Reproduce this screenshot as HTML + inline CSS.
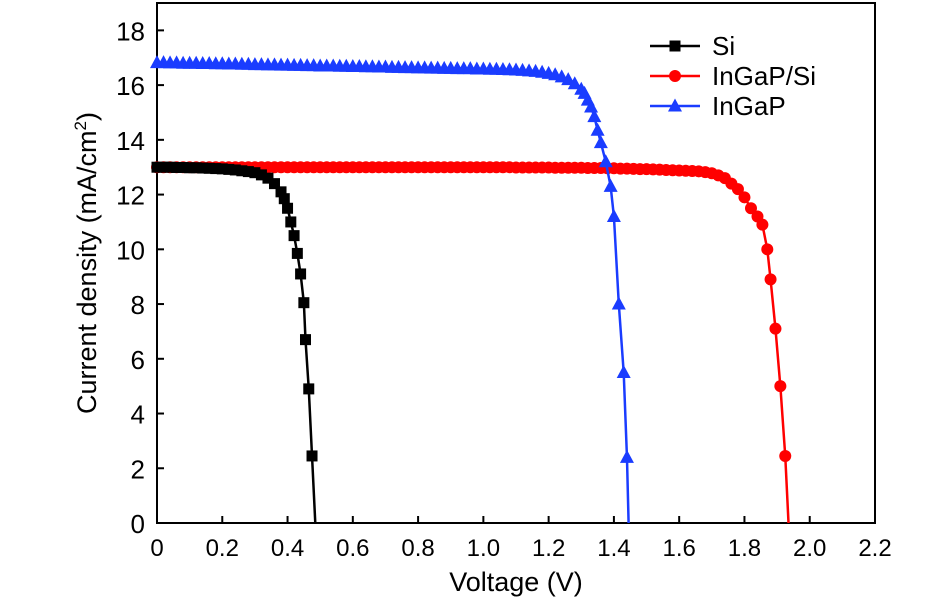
<!DOCTYPE html>
<html><head><meta charset="utf-8"><style>
body{margin:0;background:#fff;}
text{font-family:"Liberation Sans",sans-serif;fill:#000;}
</style></head><body>
<svg id="chart" width="945" height="606" viewBox="0 0 945 606" xmlns="http://www.w3.org/2000/svg">
<g id="plot"></g>
</svg>
<script>
const xTicks=[0,0.2,0.4,0.6,0.8,1.0,1.2,1.4,1.6,1.8,2.0,2.2];
const xTickLabels=["0","0.2","0.4","0.6","0.8","1.0","1.2","1.4","1.6","1.8","2.0","2.2"];
const yTicks=[0,2,4,6,8,10,12,14,16,18];
const siV=[0,0.02,0.04,0.06,0.08,0.1,0.12,0.14,0.16,0.18,0.2,0.22,0.24,0.26,0.28,0.3,0.32,0.34,0.36,0.38,0.39,0.4,0.41,0.42,0.43,0.44,0.45,0.455,0.465,0.475,0.485];
const siJ=[13.0,13.0,13.0,12.99,12.99,12.98,12.98,12.97,12.96,12.95,12.94,12.92,12.9,12.87,12.84,12.8,12.72,12.6,12.4,12.1,11.85,11.5,11.0,10.5,9.85,9.1,8.05,6.7,4.9,2.45,0];
const tandemV=[0,0.02,0.04,0.06,0.08,0.1,0.12,0.14,0.16,0.18,0.2,0.22,0.24,0.26,0.28,0.3,0.32,0.34,0.36,0.38,0.4,0.42,0.44,0.46,0.48,0.5,0.52,0.54,0.56,0.58,0.6,0.62,0.64,0.66,0.68,0.7,0.72,0.74,0.76,0.78,0.8,0.82,0.84,0.86,0.88,0.9,0.92,0.94,0.96,0.98,1.0,1.02,1.04,1.06,1.08,1.1,1.12,1.14,1.16,1.18,1.2,1.22,1.24,1.26,1.28,1.3,1.32,1.34,1.36,1.38,1.4,1.42,1.44,1.46,1.48,1.5,1.52,1.54,1.56,1.58,1.6,1.62,1.64,1.66,1.68,1.7,1.72,1.74,1.76,1.78,1.8,1.82,1.84,1.855,1.87,1.88,1.895,1.91,1.925,1.935];
const tandemJ=[13.0,13.0,13.0,13.0,13.0,13.0,13.0,13.0,13.0,13.0,13.0,13.0,13.0,13.0,13.0,13.0,13.0,13.0,13.0,13.0,13.0,13.0,13.0,13.0,13.0,13.0,13.0,13.0,13.0,13.0,13.0,13.0,13.0,13.0,13.0,13.0,13.0,13.0,13.0,13.0,13.0,13.0,13.0,13.0,13.0,13.0,13.0,13.0,13.0,13.0,13.0,13.0,13.0,13.0,13.0,12.99,12.99,12.99,12.99,12.99,12.99,12.98,12.98,12.98,12.98,12.98,12.97,12.97,12.97,12.96,12.96,12.95,12.95,12.94,12.93,12.93,12.92,12.91,12.9,12.89,12.88,12.87,12.86,12.85,12.82,12.78,12.7,12.6,12.4,12.2,11.9,11.5,11.2,10.9,10.0,8.9,7.1,5.0,2.45,0];
const ingapV=[0,0.02,0.04,0.06,0.08,0.1,0.12,0.14,0.16,0.18,0.2,0.22,0.24,0.26,0.28,0.3,0.32,0.34,0.36,0.38,0.4,0.42,0.44,0.46,0.48,0.5,0.52,0.54,0.56,0.58,0.6,0.62,0.64,0.66,0.68,0.7,0.72,0.74,0.76,0.78,0.8,0.82,0.84,0.86,0.88,0.9,0.92,0.94,0.96,0.98,1.0,1.02,1.04,1.06,1.08,1.1,1.12,1.14,1.16,1.18,1.2,1.22,1.24,1.26,1.28,1.3,1.31,1.32,1.33,1.34,1.35,1.36,1.375,1.39,1.4,1.415,1.43,1.44,1.445];
const ingapJ=[16.82,16.82,16.81,16.81,16.8,16.8,16.8,16.79,16.79,16.78,16.78,16.77,16.77,16.76,16.76,16.75,16.75,16.74,16.74,16.73,16.73,16.72,16.72,16.71,16.71,16.7,16.7,16.7,16.69,16.69,16.68,16.68,16.67,16.67,16.66,16.66,16.65,16.65,16.64,16.64,16.63,16.63,16.62,16.62,16.61,16.61,16.6,16.6,16.6,16.59,16.59,16.58,16.58,16.57,16.56,16.55,16.54,16.52,16.5,16.47,16.43,16.38,16.3,16.2,16.05,15.85,15.7,15.45,15.2,14.85,14.35,13.9,13.2,12.3,11.2,8.0,5.5,2.4,0];

const NS="http://www.w3.org/2000/svg";
const svg=document.getElementById('plot');
const X0=157,X1=875,Y0=523,Y1=3;
const xs=v=>X0+v/2.2*(X1-X0);
const ys=j=>Y0-j/19*(Y0-Y1);
function mk(tag,attrs,parent){const e=document.createElementNS(NS,tag);for(const k in attrs)e.setAttribute(k,attrs[k]);(parent||svg).appendChild(e);return e;}

const frame=mk('rect',{x:X0,y:Y1,width:X1-X0,height:Y0-Y1,fill:'none',stroke:'#000','stroke-width':2});


xTicks.forEach((t,i)=>{
  const l=mk('line',{x1:xs(t),x2:xs(t),y1:Y0,y2:Y0-7,stroke:'#000','stroke-width':2});
  
  
  const tx=mk('text',{x:xs(t),y:Y0+33,'text-anchor':'middle','font-size':24});
  tx.textContent=xTickLabels[i];
  
  
});
yTicks.forEach(t=>{
  const l=mk('line',{x1:X0,x2:X0+7,y1:ys(t),y2:ys(t),stroke:'#000','stroke-width':2});
  
  
  const tx=mk('text',{x:X0-12,y:ys(t)+10,'text-anchor':'end','font-size':26});
  tx.textContent=String(t);
  
  
});
const xt=mk('text',{x:516,y:591,'text-anchor':'middle','font-size':27});
xt.textContent='Voltage (V)';


const yt=mk('text',{x:0,y:0,'text-anchor':'middle','font-size':27,transform:'translate(96,263) rotate(-90)'});
yt.innerHTML='Current density (mA/cm<tspan font-size="17" dy="-10">2</tspan><tspan dy="10">)</tspan>';



function marker(shape,cx,cy,color,name){
  let e;
  if(shape==='square') e=mk('rect',{x:cx-5.5,y:cy-5.5,width:11,height:11,fill:color});
  else if(shape==='circle') e=mk('circle',{cx:cx,cy:cy,r:6,fill:color});
  else e=mk('polygon',{points:`${cx},${cy-7.5} ${cx-7},${cy+5.5} ${cx+7},${cy+5.5}`,fill:color});
  
  
}
function series(V,J,color,shape,name){
  const p=mk('polyline',{points:V.map((v,i)=>xs(v)+','+ys(J[i])).join(' '),fill:'none',stroke:color,'stroke-width':2.5});
  
  
  V.forEach((v,i)=>{ if(J[i]>0) marker(shape,xs(v),ys(J[i]),color,name+'-point'); });
}
series(tandemV,tandemJ,'#ff0000','circle','ingap-si');
series(ingapV,ingapJ,'#1a3cff','triangle','ingap');
series(siV,siJ,'#000000','square','si');

const legend=[['Si','#000','square'],['InGaP/Si','#ff0000','circle'],['InGaP','#1a3cff','triangle']];
legend.forEach((l,i)=>{
  const y=46+i*30;
  const ln=mk('line',{x1:650,x2:700,y1:y,y2:y,stroke:l[1],'stroke-width':2.5});
  
  
  marker(l[2],675,y,l[1],'legend-marker');
  const t=mk('text',{x:712,y:y+9,'font-size':26});
  t.textContent=l[0];
  
  
});
</script>
</body></html>
